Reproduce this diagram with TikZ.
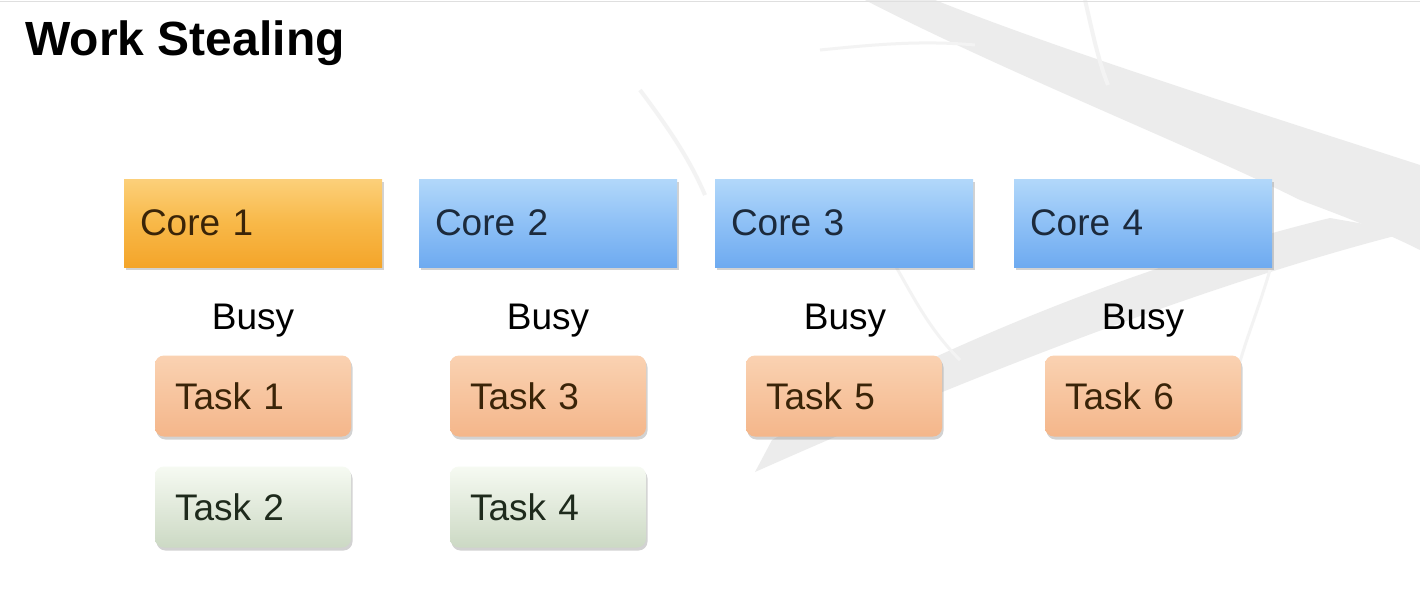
\documentclass[tikz,border=0pt]{standalone}
\usepackage{fontspec}
\setmainfont{Liberation Sans}
\usetikzlibrary{shadows}
\definecolor{wm}{HTML}{ECECEC}
\definecolor{wmthin}{HTML}{F3F3F3}
\definecolor{coretxt}{HTML}{1C2A3C}
\definecolor{orangetxt}{HTML}{3A2408}
\definecolor{greentxt}{HTML}{1E2A1C}
\definecolor{cotop}{HTML}{FCD07A}
\definecolor{cobot}{HTML}{F4A52A}
\definecolor{comid}{HTML}{F8B848}
\definecolor{cbtop}{HTML}{B2D8FA}
\definecolor{cbbot}{HTML}{6EAAF0}
\definecolor{cbmid}{HTML}{8EC0F6}
\definecolor{totop}{HTML}{FAD2B2}
\definecolor{tobot}{HTML}{F4B68A}
\definecolor{tgtop}{HTML}{F6FAF2}
\definecolor{tgbot}{HTML}{CCD9C4}
\tikzset{
  corebox/.style={rectangle, minimum width=258pt, minimum height=88pt, text width=226pt,
    inner xsep=16pt, align=left, font=\fontsize{37}{40}\selectfont,
    drop shadow={opacity=0.35, shadow xshift=1.5pt, shadow yshift=-3pt}},
  coreorange/.style={corebox, top color=cotop, bottom color=cobot, middle color=comid, text=orangetxt},
  coreblue/.style={corebox, top color=cbtop, bottom color=cbbot, middle color=cbmid, text=coretxt},
  taskbox/.style={rectangle, rounded corners=9pt, minimum width=196pt, minimum height=81pt, text width=156pt,
    inner xsep=20pt, align=left, font=\fontsize{37}{40}\selectfont,
    drop shadow={opacity=0.35, shadow xshift=1.5pt, shadow yshift=-3pt}},
  taskorange/.style={taskbox, top color=totop, bottom color=tobot, text=orangetxt},
  taskgreen/.style={taskbox, top color=tgtop, bottom color=tgbot, text=greentxt},
  busylabel/.style={font=\fontsize{37}{40}\selectfont, text=black},
  titlelabel/.style={font=\fontsize{48}{52}\selectfont\bfseries, text=black, anchor=west}
}
\begin{document}
\begin{tikzpicture}[x=1pt, y=-1pt]
\useasboundingbox (0,0) rectangle (1420,598);
\fill[white] (0,0) rectangle (1420,598);
% faint watermark branch
\fill[wm] (865,0) -- (935,0) .. controls (1060,50) and (1250,110) .. (1420,165) -- (1420,250)
  .. controls (1380,230) and (1340,215) .. (1300,200) .. controls (1200,150) and (1000,70) .. (865,0) -- cycle;
\fill[wm] (1410,232) .. controls (1200,285) and (950,385) .. (755,472) -- (772,440)
  .. controls (950,340) and (1150,262) .. (1330,218) -- cycle;
\draw[wmthin, line width=4pt] (1085,0) .. controls (1092,30) and (1098,60) .. (1108,85);
\draw[wmthin, line width=4pt] (640,90) .. controls (670,130) and (690,160) .. (705,195);
\draw[wmthin, line width=3pt] (820,50) .. controls (870,45) and (920,40) .. (975,45);
\draw[wmthin, line width=3pt] (895,265) .. controls (915,300) and (930,330) .. (960,360);
\draw[wmthin, line width=3pt] (1270,270) .. controls (1255,320) and (1245,340) .. (1235,380);
\draw[gray!25, line width=1pt] (0,1) -- (1420,1);
% title
\node[titlelabel] (title) at (22,43) {Work Stealing};
% cores
\node[coreorange] (c1) at (253,223) {Core 1};
\node[coreblue] (c2) at (548,223) {Core 2};
\node[coreblue] (c3) at (844,223) {Core 3};
\node[coreblue] (c4) at (1143,223) {Core 4};
% busy labels
\node[busylabel] (b1) at (253,321) {Busy};
\node[busylabel] (b2) at (548,321) {Busy};
\node[busylabel] (b3) at (845,321) {Busy};
\node[busylabel] (b4) at (1143,321) {Busy};
% tasks
\node[taskorange] (t1) at (253,396) {Task 1};
\node[taskorange] (t3) at (548,396) {Task 3};
\node[taskorange] (t5) at (844,396) {Task 5};
\node[taskorange] (t6) at (1143,396) {Task 6};
\node[taskgreen] (t2) at (253,507) {Task 2};
\node[taskgreen] (t4) at (548,507) {Task 4};
\end{tikzpicture}
\end{document}
